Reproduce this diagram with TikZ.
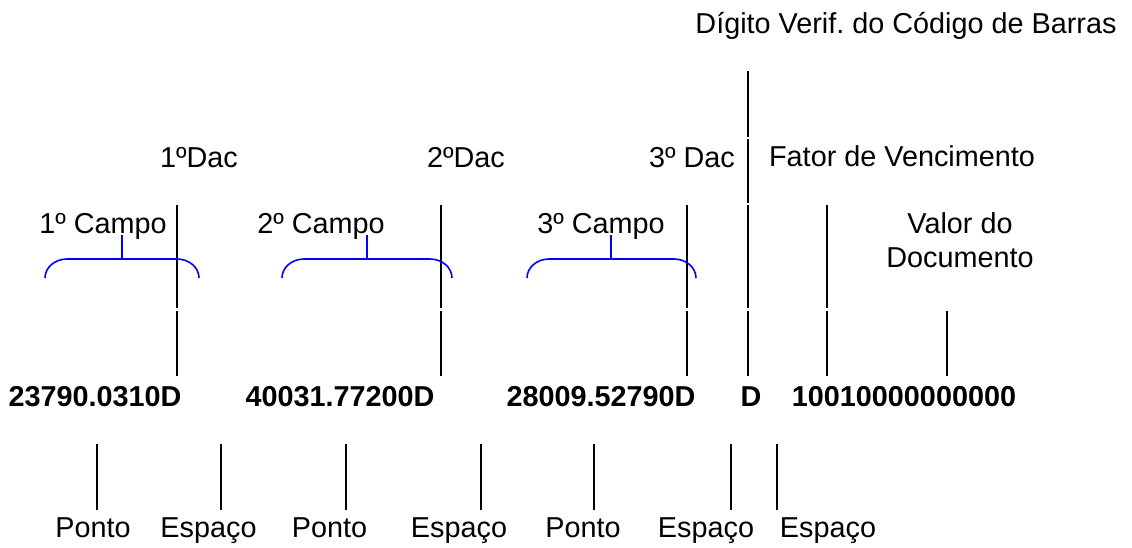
\documentclass[tikz,border=0pt]{standalone}
\usepackage{fontspec}
\setmainfont{Liberation Sans}
\usepackage{tikz}
\frenchspacing

\begin{document}
\begin{tikzpicture}[x=1pt,y=-1pt,
  lbl/.style = {inner sep=0pt, anchor=base, font=\fontsize{28.8}{34}\selectfont},
  num/.style = {lbl, font=\fontsize{28.8}{34}\selectfont\bfseries},
  vline/.style = {line width=1.7pt},
  brc/.style = {draw=blue, line width=1.6pt}]
\useasboundingbox (0,0) rectangle (1132,547);
\node[lbl] (dig) at (906,33) {Dígito Verif. do Código de Barras};
\node[lbl] (dac1) at (199,167) {1ºDac};
\node[lbl] (dac2) at (466,167) {2ºDac};
\node[lbl] (dac3) at (692,167) {3º Dac};
\node[lbl] (fator) at (902,166) {Fator de Vencimento};
\node[lbl] (campo1) at (103,233) {1º Campo};
\node[lbl] (campo2) at (321,233) {2º Campo};
\node[lbl] (campo3) at (601,233) {3º Campo};
\node[lbl, align=center, anchor=north] (valor) at (960,212.4) {Valor do\\Documento};
\node[num] (n1) at (95,406) {23790.0310D};
\node[num] (n2) at (340,406) {40031.77200D};
\node[num] (n3) at (601,406) {28009.52790D};
\node[num] (nd) at (751,406) {D};
\node[num] (n4) at (904,406) {10010000000000};
\node[lbl] (ponto1) at (93,537) {Ponto};
\node[lbl] (esp1) at (208.5,537) {Espaço};
\node[lbl] (ponto2) at (329.5,537) {Ponto};
\node[lbl] (esp2) at (459,537) {Espaço};
\node[lbl] (ponto3) at (583,537) {Ponto};
\node[lbl] (esp3) at (706,537) {Espaço};
\node[lbl] (esp4) at (828,537) {Espaço};
\draw[vline] (748,71) -- (748,137);
\draw[vline] (748,138.5) -- (748,203);
\foreach \x in {177,441,687,748,827}
  \draw[vline] (\x,205) -- (\x,308);
\foreach \x in {177,441,687,748,827,947}
  \draw[vline] (\x,311) -- (\x,376);
\foreach \x in {97,221,346,481,594,731,777}
  \draw[vline] (\x,444) -- (\x,510);
\foreach \a/\m/\b in {45/122/199,282/367/452,527/611/696} {
  \draw[brc] (\a,278) arc[start angle=180,end angle=90,x radius=22pt,y radius=19pt]
    -- (\b-22,259) arc[start angle=90,end angle=0,x radius=22pt,y radius=19pt];
  \draw[brc] (\m,259) -- (\m,235);
}
\end{tikzpicture}
\end{document}
